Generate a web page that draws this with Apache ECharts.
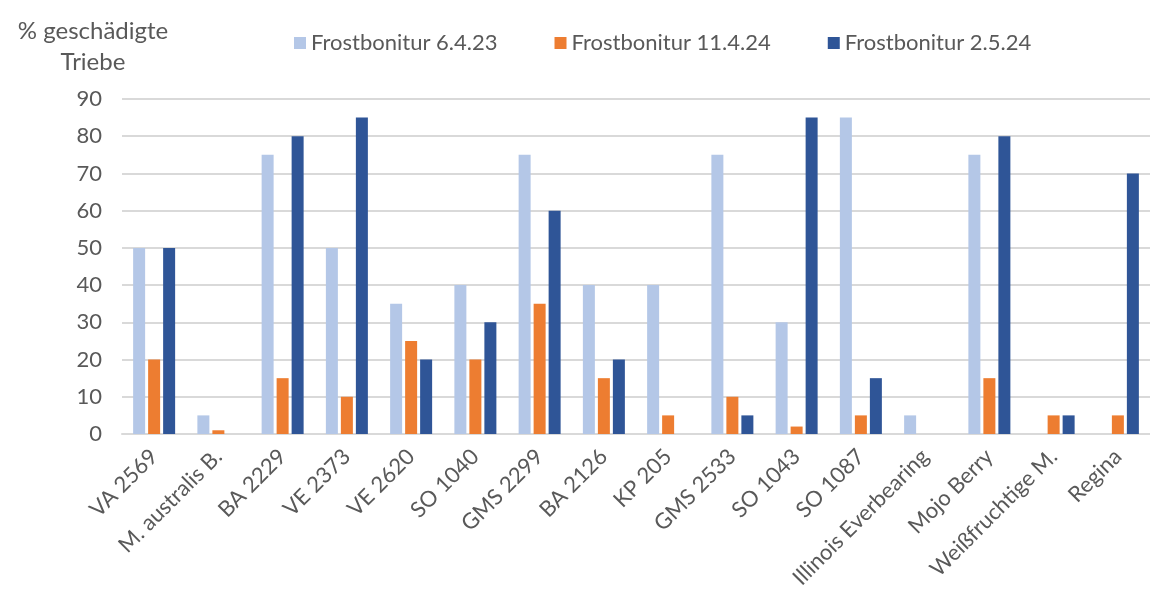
<!DOCTYPE html>
<html>
<head>
<meta charset="utf-8">
<script src="https://cdn.jsdelivr.net/npm/echarts@6/dist/echarts.min.js"></script>
<style>
  html, body { margin: 0; padding: 0; background: #fff; }
  #chart { width: 1150px; height: 596px; }
</style>
</head>
<body>
<div id="chart"></div>
<script>
// Sorten
const categories = ['VA 2569', 'M. australis B.', 'BA 2229', 'VE 2373', 'VE 2620', 'SO 1040', 'GMS 2299', 'BA 2126',
  'KP 205', 'GMS 2533', 'SO 1043', 'SO 1087', 'Illinois Everbearing', 'Mojo Berry', 'Weißfruchtige M.', 'Regina']
const seriesNames = ['Frostbonitur 6.4.23', 'Frostbonitur 11.4.24', 'Frostbonitur 2.5.24']
// % geschädigte Triebe
const frost2023 = [50, 5, 75, 50, 35, 40, 75, 40, 40, 75, 30, 85, 5, 75, 0, 0]
const frost1104 = [20, 1, 15, 10, 25, 20, 35, 15, 5, 10, 2, 5, 0, 15, 5, 5]
const frost0205 = [50, 0, 80, 85, 20, 30, 60, 20, 0, 5, 85, 15, 0, 80, 5, 70]
const colors = ['#b4c7e7', '#ed7d31', '#2f5597']

const font = 'Lato, "Open Sans", sans-serif'
const textColor = '#595959'

let myChart = echarts.init(document.getElementById('chart'))
const values = [frost2023, frost1104, frost0205]
myChart.setOption({
  animation: false,
  title: {
    text: '% geschädigte\nTriebe',
    left: 88,
    top: 11,
    textAlign: 'center',
    textStyle: { color: textColor, fontFamily: font, fontWeight: 'normal', fontSize: 24, lineHeight: 31 }
  },
  legend: {
    data: seriesNames,
    top: 27,
    left: 289,
    itemGap: 57,
    itemWidth: 12,
    itemHeight: 12,
    icon: 'rect',
    textStyle: { color: textColor, fontFamily: font, fontSize: 22 }
  },
  grid: { left: 122, right: 0, top: 99, bottom: 162 },
  xAxis: {
    type: 'category',
    data: categories,
    axisTick: { show: false },
    axisLine: { lineStyle: { color: '#d9d9d9', width: 2 } },
    axisLabel: { rotate: 45, interval: 0, color: textColor, fontFamily: font, fontSize: 22, margin: 19 }
  },
  yAxis: {
    type: 'value',
    min: 0,
    max: 90,
    interval: 10,
    axisLabel: { color: textColor, fontFamily: font, fontSize: 22, margin: 20 },
    splitLine: { lineStyle: { color: '#d9d9d9', width: 2 } }
  },
  series: seriesNames.map(function (name, i) {
    return {
      name: name,
      type: 'bar',
      data: values[i],
      barWidth: 12,
      barGap: '25%',
      itemStyle: { color: colors[i] }
    }
  })
})
</script>
</body>
</html>
